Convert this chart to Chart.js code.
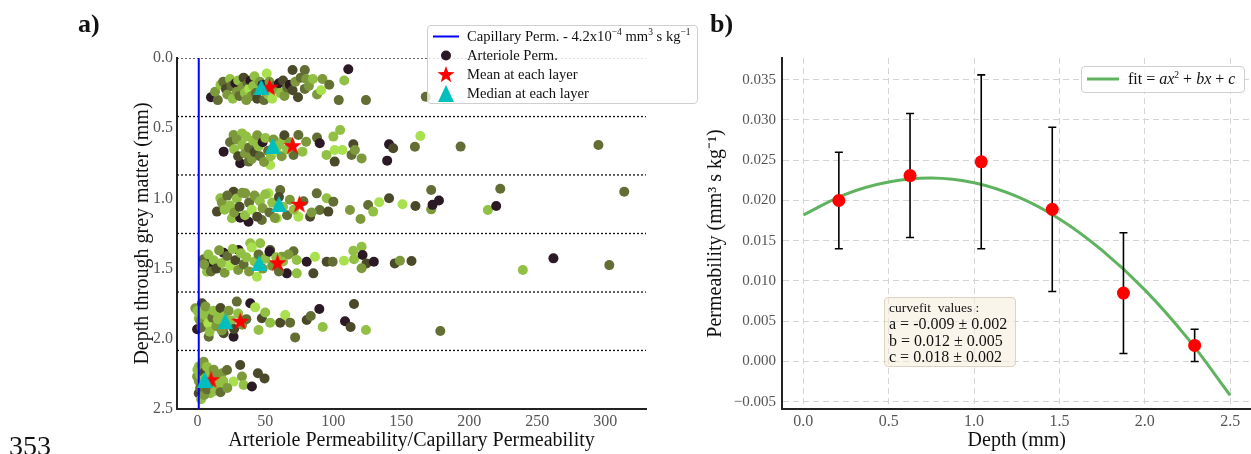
<!DOCTYPE html>
<html><head><meta charset="utf-8">
<script src="https://cdn.jsdelivr.net/npm/chart.js@4.4.0/dist/chart.umd.min.js"></script>
<style>
body{margin:0;background:#fff;}
#wrap{position:relative;width:1251px;height:454px;overflow:hidden;font-family:"Liberation Serif",serif;color:#111;background:#fff;}
#ca{position:absolute;left:0;top:0;}
#cb{position:absolute;left:700px;top:0;}
.panel{position:absolute;font-weight:bold;font-size:26px;line-height:26px;}
.legA{position:absolute;left:427px;top:25px;width:271px;height:79px;box-sizing:border-box;border:1px solid #cfcfcf;border-radius:4px;background:rgba(255,255,255,0.8);font-size:14.6px;}
.row{position:absolute;left:0;height:19px;line-height:19px;width:100%;}
.row .ic{position:absolute;left:4px;top:0;width:28px;height:19px;}
.row .tx{position:absolute;left:39px;top:0;white-space:nowrap;}
.legB{position:absolute;left:1081px;top:66px;width:164px;height:27px;box-sizing:border-box;border:1px solid #cfcfcf;border-radius:4px;background:rgba(255,255,255,0.85);font-size:16px;}
.ann{position:absolute;left:884px;top:297px;width:132px;height:70px;box-sizing:border-box;border:1px solid #ddd3c2;border-radius:4px;background:rgba(245,236,218,0.55);font-size:16px;padding:2px 0 0 4px;line-height:16.3px;}
sup{font-size:9.5px;line-height:0;}
</style></head>
<body><div id="wrap">
<canvas id="ca" width="700" height="454"></canvas>
<canvas id="cb" width="558" height="454"></canvas>
<div class="panel" style="left:78px;top:11px;">a)</div>
<div class="panel" style="left:710px;top:11px;">b)</div>
<div style="position:absolute;left:9px;top:432px;font-size:28px;line-height:28px;">353</div>
<div class="legA">
  <div class="row" style="top:1px;"><svg class="ic" width="28" height="19"><line x1="1" y1="9.5" x2="27" y2="9.5" stroke="#0000ff" stroke-width="2"/></svg><span class="tx">Capillary Perm. - 4.2x10<sup>−4</sup> mm<sup>3</sup> s kg<sup>−1</sup></span></div>
  <div class="row" style="top:20px;"><svg class="ic" width="28" height="19"><circle cx="14" cy="9.5" r="5" fill="#2b1a26"/></svg><span class="tx">Arteriole Perm.</span></div>
  <div class="row" style="top:39px;"><svg class="ic" width="28" height="19"><polygon id="starIcon" fill="#ff0000"/></svg><span class="tx">Mean at each layer</span></div>
  <div class="row" style="top:58px;"><svg class="ic" width="28" height="19"><polygon points="14,1 6,18 22,18" fill="#00bfbf"/></svg><span class="tx">Median at each layer</span></div>
</div>
<div class="legB">
  <svg style="position:absolute;left:4px;top:5px;" width="34" height="14"><line x1="1" y1="7" x2="33" y2="7" stroke="#5fb35f" stroke-width="3"/></svg>
  <span style="position:absolute;left:46px;top:3px;white-space:nowrap;">fit = <i>ax</i><sup>2</sup> + <i>bx</i> + <i>c</i></span>
</div>
<div class="ann">
  <div style="font-size:13.5px;">curvefit&nbsp; values :</div>
  <div>a = -0.009 ± 0.002</div>
  <div>b = 0.012 ± 0.005</div>
  <div>c = 0.018 ± 0.002</div>
</div>
</div>
<script>
// ---------- Panel a data ----------
const layerDepths = [0.208, 0.625, 1.042, 1.458, 1.875, 2.292];
const layerBounds = [0, 0.417, 0.833, 1.25, 1.667, 2.083];
const meanRatio = [53, 70, 75, 59, 31.5, 10];
const medianRatio = [47, 55.5, 60, 45.5, 20.5, 5.4];
const capillaryRatio = 1;
const xTicksA = [0, 50, 100, 150, 200, 250, 300];
const yTicksA = [0, 0.5, 1.0, 1.5, 2.0, 2.5];
const shadeColors = ['#2b1a26', '#4a4a2a', '#626e33', '#7d993b', '#92c044', '#a9e04d'];

const arterioleX = [
 // layer 1
 10,15,13,17,19,21,22,24,25,26,28,29,30,31,33,34,35,36,37,38,39,40,41,42,43,44,46,47,48,49,51,52,53,55,57,58,60,61,63,64,66,68,70,70,72,74,76,79,79,80,82,85,88,91,92,97,104,108,111,124,168,
 // layer 2
 19.3,26.6,31.5,32.8,37.7,53.5,63.3,74.3,80,88,90,77.3,70.7,95,100,105,101,106.6,101,114.7,113.4,120.8,115.9,141,144,139.6,160,164,193.6,295,
 24,27,29,30,33,35,36,38,40,41,42,44,45,46,48,49,50,52,54,56,58,60,62,64,66,68,
 // layer 3
 14.4,16.9,25.4,31.5,37.6,26.6,35.2,43.8,47.4,52.3,58.4,60.9,74.3,82.9,87.8,95.1,90,100,96.3,112.2,120,125.6,129.3,133.7,141,150.9,160.4,172,172,177.7,173,222.8,213.7,219.8,314,
 18,20,22,24,27,29,31,33,35,38,40,42,44,46,48,50,53,55,57,60,63,66,68,71,78,84,
 // layer 4
 4.6,7.1,9.5,19.3,30.3,38.9,46.2,43.8,53.5,62.1,65.8,73.1,70.7,73.1,80.4,85.3,86.5,95.1,99.5,107.8,115.2,114.7,120.8,121.5,124.4,129.8,120.8,145.2,149,157.5,239.4,261.9,303,
 5,8,10,12,14,16,18,20,22,24,26,28,30,32,34,36,38,40,42,45,48,50,53,55,58,60,63,67,
 // layer 5
 -1.5,-0.2,1,3.4,7.1,8.3,12,19.3,16.9,26.6,29,38.9,42.5,45,47.4,49.9,53.5,60.9,64.6,68.2,71.9,80.4,83.4,89.7,92.2,108.6,112.7,115.2,124,178.7,
 0,2,3,5,6,8,9,11,12,14,15,17,18,20,22,23,25,27,30,33,36,
 // layer 6
 1,-0.2,1,2.7,4.6,9.5,12,16.9,18.1,21.8,26.6,31.5,32.8,34,40.1,44.5,49.4,
 0,1,2,2,3,4,5,5,6,7,7,8,9,10,11,12,13,14,15,17,19,22
];
const arterioleY = [
 // layer 1
 0.28,0.30,0.24,0.19,0.17,0.22,0.26,0.15,0.20,0.29,0.18,0.24,0.16,0.27,0.21,0.14,0.25,0.30,0.18,0.22,0.16,0.27,0.20,0.13,0.25,0.29,0.17,0.23,0.19,0.30,0.11,0.26,0.17,0.29,0.20,0.22,0.18,0.25,0.16,0.27,0.21,0.19,0.23,0.085,0.17,0.28,0.14,0.085,0.22,0.15,0.20,0.15,0.26,0.23,0.15,0.19,0.30,0.16,0.08,0.30,0.276,
 // layer 2
 0.667,0.548,0.75,0.537,0.738,0.762,0.58,0.548,0.596,0.567,0.607,0.667,0.69,0.69,0.56,0.513,0.655,0.655,0.738,0.615,0.69,0.715,0.655,0.615,0.643,0.731,0.632,0.555,0.631,0.62,
 0.60,0.65,0.58,0.70,0.62,0.68,0.56,0.64,0.72,0.59,0.67,0.55,0.63,0.70,0.60,0.74,0.57,0.66,0.70,0.58,0.66,0.62,0.70,0.55,0.65,0.60,
 // layer 3
 1.094,0.999,1.142,1.137,1.166,0.952,0.964,0.999,1.154,0.964,1.142,0.94,1.13,1.13,0.964,0.999,1.083,1.023,1.094,1.083,1.147,1.047,1.094,1.028,0.999,1.042,1.054,0.94,1.078,1.015,1.046,0.931,1.083,1.054,0.952,
 1.03,1.08,0.98,1.05,1.10,1.00,1.06,0.96,1.12,1.03,1.08,0.98,1.13,1.02,1.07,0.97,1.10,1.03,1.14,0.99,1.06,1.12,1.01,1.08,1.02,1.10,
 // layer 4
 1.434,1.522,1.463,1.387,1.368,1.32,1.32,1.558,1.368,1.415,1.534,1.534,1.377,1.439,1.451,1.534,1.415,1.451,1.451,1.444,1.434,1.373,1.344,1.403,1.463,1.451,1.498,1.463,1.444,1.446,1.51,1.427,1.475,
 1.47,1.40,1.52,1.44,1.50,1.37,1.46,1.53,1.41,1.48,1.36,1.44,1.51,1.39,1.47,1.42,1.52,1.35,1.45,1.40,1.50,1.43,1.38,1.48,1.42,1.52,1.45,1.40,
 // layer 5
 1.783,1.932,1.854,1.747,1.806,1.985,1.89,1.961,1.818,1.985,1.735,1.747,1.776,1.937,1.854,1.813,1.885,1.885,1.83,1.885,1.99,1.866,1.837,1.788,1.916,1.875,1.916,1.752,1.937,1.944,
 1.80,1.87,1.92,1.83,1.77,1.89,1.95,1.85,1.80,1.91,1.86,1.78,1.94,1.84,1.90,1.80,1.87,1.93,1.82,1.90,1.86,
 // layer 6
 2.198,2.269,2.388,2.431,2.163,2.388,2.34,2.329,2.246,2.222,2.305,2.186,2.269,2.329,2.34,2.246,2.282,
 2.22,2.30,2.35,2.26,2.19,2.32,2.40,2.24,2.28,2.36,2.20,2.31,2.25,2.34,2.29,2.22,2.37,2.27,2.32,2.38,2.30,2.35
];
const arterioleShade = [
 // layer 1
 0,2,3,4,2,1,3,4,2,4,0,3,4,2,3,1,4,3,2,5,0,3,4,4,2,1,3,4,0,2,5,4,3,5,2,3,0,4,1,3,2,0,1,1,3,1,2,2,2,3,3,4,3,5,3,2,2,4,0,2,2,
 // layer 2
 0,3,0,4,2,5,4,2,3,2,0,4,2,4,4,4,5,5,1,1,2,3,3,0,1,0,2,5,2,2,
 2,4,3,1,4,3,4,2,3,4,1,3,4,2,0,3,4,2,4,3,5,4,3,1,4,3,
 // layer 3
 1,4,4,0,0,1,3,4,2,5,5,2,5,1,2,4,2,2,1,3,3,2,4,5,1,5,1,2,3,0,0,2,4,0,2,
 3,4,2,4,3,4,1,3,4,2,5,3,1,4,3,4,2,4,3,1,4,2,3,4,2,3,
 // layer 4
 2,4,0,0,0,4,4,5,1,3,0,4,2,4,0,1,5,1,2,5,4,4,4,0,1,0,3,1,3,1,4,0,2,
 3,4,2,4,1,3,4,3,2,5,4,1,3,4,2,4,3,5,4,2,3,4,0,3,4,2,4,3,
 // layer 5
 3,0,4,1,4,2,3,1,4,0,2,0,5,4,1,4,4,1,5,2,2,1,2,0,4,0,1,1,4,2,
 4,3,2,4,3,5,4,2,4,3,4,1,3,4,2,3,4,1,4,3,2,
 // layer 6
 4,3,1,4,3,4,3,5,3,2,5,1,3,4,0,1,1,
 4,3,2,4,3,4,3,1,4,2,4,3,4,2,4,3,4,3,4,2,4,3
];

// ---------- Panel b data ----------
const depthB = [0.208, 0.625, 1.042, 1.458, 1.875, 2.292];
const permB = [0.0200, 0.0231, 0.0248, 0.0189, 0.0085, 0.0020];
const errB = [0.0060, 0.0077, 0.0108, 0.0102, 0.0075, 0.0020];
const fitDepth = [0, 0.25, 0.5, 0.75, 1.0, 1.25, 1.5, 1.75, 2.0, 2.25, 2.5];
const fitPerm = [0.0182, 0.0208, 0.0223, 0.0228, 0.0222, 0.0205, 0.0177, 0.0138, 0.0089, 0.0029, -0.0042];
const xTicksB = [0, 0.5, 1.0, 1.5, 2.0, 2.5];
const yTicksB = [-0.005, 0, 0.005, 0.010, 0.015, 0.020, 0.025, 0.030, 0.035];

// ---------- marker images ----------
function starImage(size, color) {
  const c = document.createElement('canvas'); c.width = size; c.height = size;
  const g = c.getContext('2d'); const R = size / 2, r = R * 0.4;
  g.beginPath();
  for (let i = 0; i < 10; i++) {
    const a = -Math.PI / 2 + i * Math.PI / 5; const rad = i % 2 ? r : R;
    g.lineTo(R + rad * Math.cos(a), R + 0.5 + rad * Math.sin(a));
  }
  g.closePath(); g.fillStyle = color; g.fill(); return c;
}
function triImage(size, color) {
  const c = document.createElement('canvas'); c.width = size; c.height = size;
  const g = c.getContext('2d');
  g.beginPath(); g.moveTo(size / 2, 0); g.lineTo(size, size); g.lineTo(0, size); g.closePath();
  g.fillStyle = color; g.fill(); return c;
}
(function () {
  const pts = []; const R = 9, r = 3.6;
  for (let i = 0; i < 10; i++) { const a = -Math.PI / 2 + i * Math.PI / 5; const rad = i % 2 ? r : R; pts.push((14 + rad * Math.cos(a)).toFixed(2) + ',' + (10 + rad * Math.sin(a)).toFixed(2)); }
  document.getElementById('starIcon').setAttribute('points', pts.join(' '));
})();

Chart.defaults.font.family = '"Liberation Serif", serif';
Chart.defaults.color = '#555';

const commonPlugins = { legend: { display: false }, tooltip: { enabled: false } };

// ---------- Panel a ----------
const boundaryDatasets = layerBounds.map(b => ({
  type: 'line', data: [{ x: -15, y: b }, { x: 330, y: b }], borderColor: '#111', borderWidth: 1.3,
  borderDash: [2, 2], pointRadius: 0, fill: false
}));
new Chart(document.getElementById('ca'), {
  type: 'scatter',
  data: {
    datasets: [
      { label: 'Median at each layer', data: medianRatio.map((v, i) => ({ x: v, y: layerDepths[i] })), pointStyle: triImage(16, '#00bfbf'), pointRadius: 8 },
      { label: 'Mean at each layer', data: meanRatio.map((v, i) => ({ x: v, y: layerDepths[i] })), pointStyle: starImage(19, '#ff0000'), pointRadius: 9 },
      { type: 'line', label: 'Capillary Perm.', data: [{ x: capillaryRatio, y: 0 }, { x: capillaryRatio, y: 2.5 }], borderColor: '#0000ff', borderWidth: 2, pointRadius: 0 },
      ...boundaryDatasets,
      { label: 'Arteriole Perm.', data: arterioleX.map((v, i) => ({ x: v, y: arterioleY[i] })),
        pointRadius: 5, pointBorderWidth: 0, backgroundColor: arterioleShade.map(s => shadeColors[s]), borderColor: 'rgba(0,0,0,0)' }
    ]
  },
  options: {
    responsive: false, animation: false, events: [],
    layout: { padding: { left: 126, right: 54, top: 58, bottom: 0 } },
    plugins: commonPlugins,
    scales: {
      x: {
        type: 'linear', min: -15, max: 330,
        afterBuildTicks: s => { s.ticks = xTicksA.map(v => ({ value: v })); },
        afterFit: s => { s.height = 45; },
        ticks: { font: { size: 16 }, color: '#555', padding: 3, callback: v => String(v) },
        grid: { display: false, drawTicks: false },
        border: { display: true, color: '#222', width: 2 },
        title: { display: true, text: 'Arteriole Permeability/Capillary Permeability', font: { size: 20 }, color: '#111', padding: { top: 0, bottom: 1 } }
      },
      y: {
        type: 'linear', reverse: true, min: 0, max: 2.5,
        afterBuildTicks: s => { s.ticks = yTicksA.map(v => ({ value: v })); },
        afterFit: s => { s.width = 51; },
        ticks: { font: { size: 16 }, color: '#555', padding: 4, callback: v => v.toFixed(1) },
        grid: { display: false, drawTicks: false },
        border: { display: true, color: '#222', width: 2 },
        title: { display: true, text: 'Depth through grey matter (mm)', font: { size: 20 }, color: '#111', padding: { top: 5, bottom: 0 } }
      }
    }
  }
});

// ---------- Panel b ----------
const errorBarPlugin = {
  id: 'errbars',
  afterDatasetDraw(chart, args) {
    if (args.index !== 1) return;
    const { ctx, scales: { x, y } } = chart;
    ctx.save(); ctx.strokeStyle = '#000'; ctx.lineWidth = 1.6;
    depthB.forEach((d, i) => {
      const px = x.getPixelForValue(d);
      const top = y.getPixelForValue(permB[i] + errB[i]);
      const bot = y.getPixelForValue(permB[i] - errB[i]);
      ctx.beginPath();
      ctx.moveTo(px, top); ctx.lineTo(px, bot);
      ctx.moveTo(px - 4, top); ctx.lineTo(px + 4, top);
      ctx.moveTo(px - 4, bot); ctx.lineTo(px + 4, bot);
      ctx.stroke();
    });
    ctx.restore();
  }
};
new Chart(document.getElementById('cb'), {
  type: 'scatter',
  data: {
    datasets: [
      { label: 'Permeability', data: depthB.map((v, i) => ({ x: v, y: permB[i] })), pointRadius: 6.5, pointBorderWidth: 0, backgroundColor: '#ff0000', borderColor: 'rgba(0,0,0,0)' },
      { type: 'line', label: 'fit', data: fitDepth.map((v, i) => ({ x: v, y: fitPerm[i] })), borderColor: '#5fb35f', borderWidth: 3, pointRadius: 0, tension: 0.4, fill: false }
    ]
  },
  plugins: [errorBarPlugin],
  options: {
    responsive: false, animation: false, events: [],
    layout: { padding: { left: 0, right: 0, top: 58, bottom: 0 } },
    plugins: commonPlugins,
    scales: {
      x: {
        type: 'linear', min: -0.125, max: 2.625,
        afterBuildTicks: s => { s.ticks = xTicksB.map(v => ({ value: v })); },
        afterFit: s => { s.height = 45; },
        ticks: { font: { size: 16 }, color: '#555', padding: 3, callback: v => v.toFixed(1) },
        grid: { display: true, drawTicks: false, color: '#d4d4d4', lineWidth: 1, borderDash: [6, 4] },
        border: { display: true, color: '#222', width: 2, dash: [6, 4] },
        title: { display: true, text: 'Depth (mm)', font: { size: 20 }, color: '#111', padding: { top: 0, bottom: 1 } }
      },
      y: {
        type: 'linear', min: -0.0059, max: 0.0377,
        afterBuildTicks: s => { s.ticks = yTicksB.map(v => ({ value: v })); },
        afterFit: s => { s.width = 82; },
        ticks: { font: { size: 15 }, color: '#555', padding: 6, callback: v => (v < 0 ? '−' : '') + Math.abs(v).toFixed(3) },
        grid: { display: true, drawTicks: false, color: '#d4d4d4', lineWidth: 1, borderDash: [6, 4] },
        border: { display: true, color: '#222', width: 2, dash: [6, 4] },
        title: { display: true, text: 'Permeability (mm³ s kg⁻¹)', font: { size: 20 }, color: '#111', padding: { top: 4, bottom: 0 } }
      }
    }
  }
});
</script>
</body></html>
